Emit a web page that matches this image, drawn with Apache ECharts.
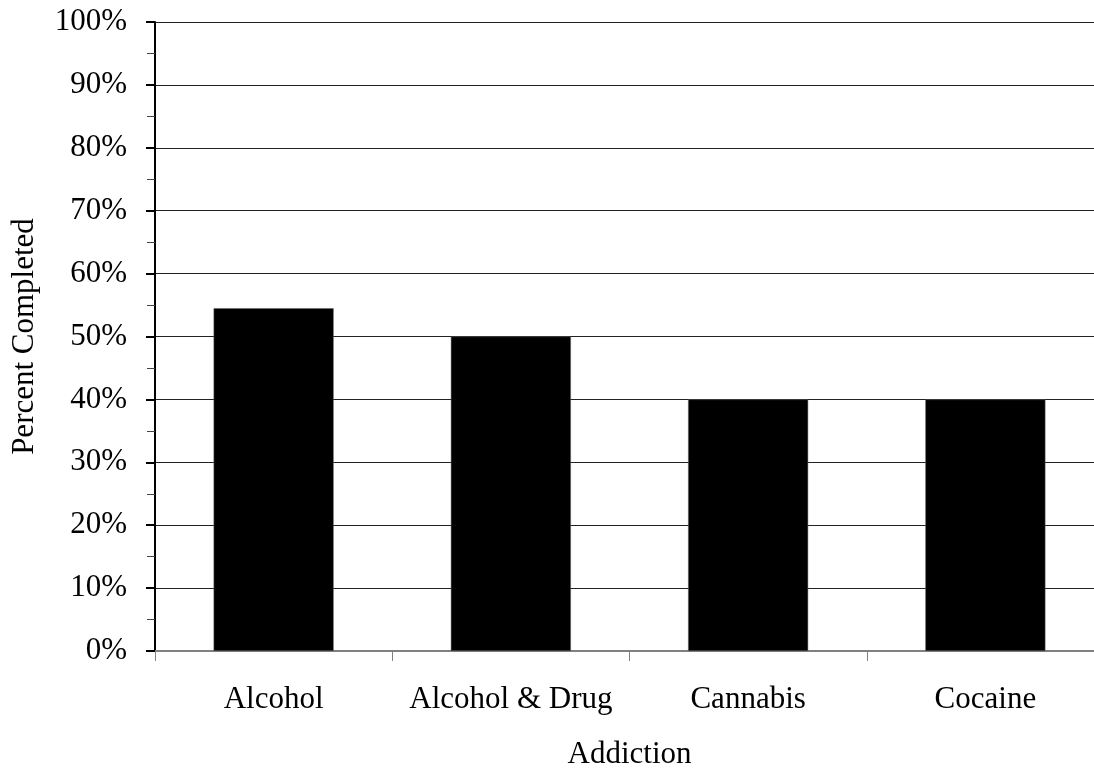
<!DOCTYPE html>
<html><head><meta charset="utf-8">
<script src="https://cdn.jsdelivr.net/npm/echarts@6/dist/echarts.min.js"></script>
<style>html,body{margin:0;padding:0;background:#fff}#c{width:1094px;height:768px}</style>
</head><body><div id="c"></div>
<script>
const categories = ['Alcohol', 'Alcohol & Drug', 'Cannabis', 'Cocaine'];
const percentCompleted = [54.5, 50, 40, 40];
const font = '"Liberation Serif", "Times New Roman", serif';
const chart = echarts.init(document.getElementById('c'));
chart.setOption({
  animation: false,
  grid: { left: 155, right: -10, top: 22, bottom: 117, containLabel: false, outerBoundsMode: 'none' },
  xAxis: {
    type: 'category', data: categories,
    name: 'Addiction', nameLocation: 'middle', nameGap: 88,
    nameTextStyle: { fontFamily: font, fontSize: 31, color: '#000' },
    axisLine: { lineStyle: { color: '#808080', width: 2 } },
    axisTick: { show: true, length: 10, lineStyle: { color: '#808080', width: 1 } },
    axisLabel: { fontFamily: font, fontSize: 31, color: '#000', margin: 33, interval: 0 }
  },
  yAxis: {
    type: 'value', min: 0, max: 100, interval: 10,
    name: 'Percent Completed', nameLocation: 'middle', nameGap: 115,
    nameTextStyle: { fontFamily: font, fontSize: 31, color: '#000' },
    axisLine: { show: true, lineStyle: { color: '#000', width: 2 } },
    axisTick: { show: true, length: 9, lineStyle: { color: '#000', width: 2 } },
    minorTick: { show: true, splitNumber: 2, length: 8, lineStyle: { color: '#444', width: 1 } },
    axisLabel: { fontFamily: font, fontSize: 31, color: '#000', margin: 28, formatter: '{value}%' },
    splitLine: { show: true, lineStyle: { color: '#222', width: 1 } }
  },
  series: [{
    type: 'bar', data: percentCompleted, barWidth: '50.6%',
    itemStyle: { color: '#000', borderColor: '#666', borderWidth: 0.5 }
  }]
});
</script></body></html>
